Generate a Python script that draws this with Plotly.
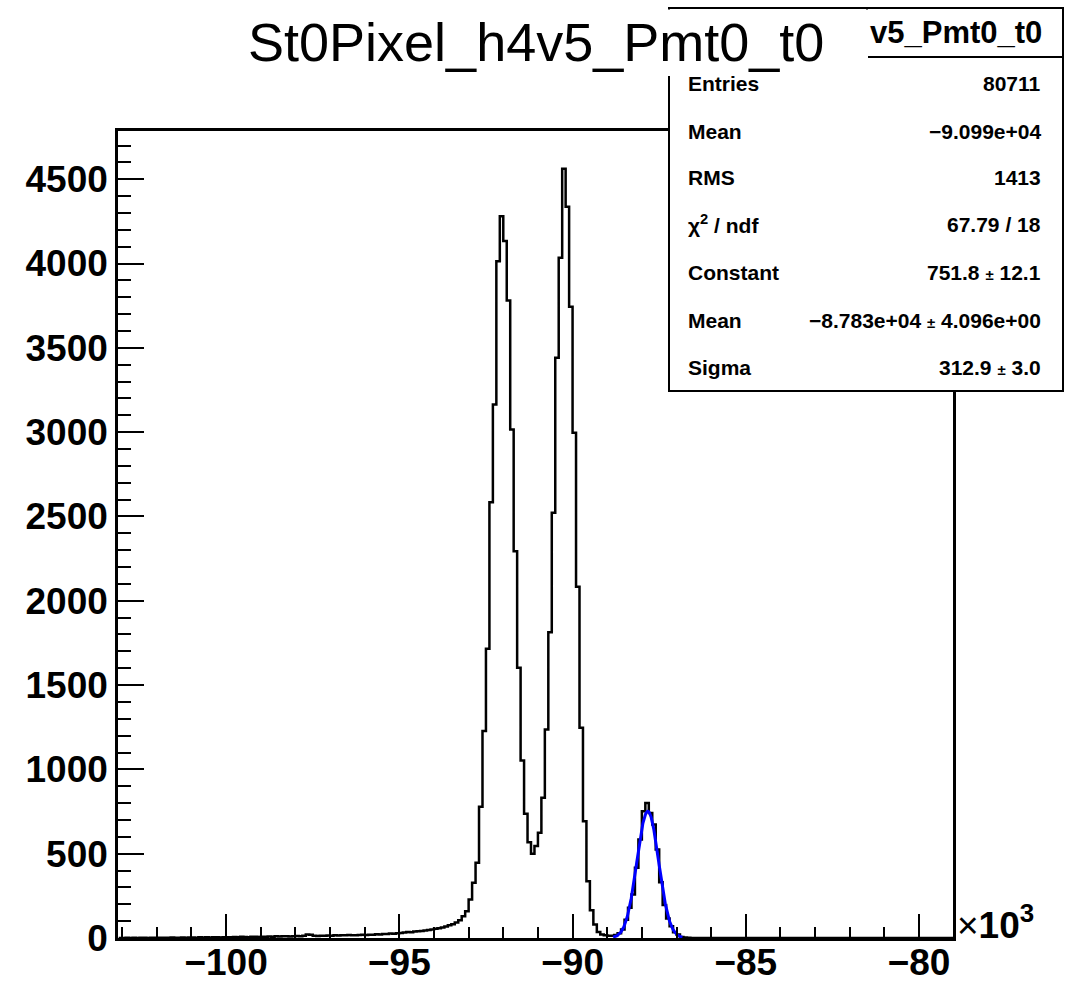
import numpy as np
import plotly.graph_objects as go

# ---------------- data (x in units of 10^3) ----------------
bin_start = -103.1
bin_width = 0.1
counts = [
    0, 0, 1, 0, 1, 0, 1, 1, 0, 2, 1,            # -103.1 .. -102.1
    1, 2, 1, 2, 3, 2, 1, 3, 2, 3,               # -102.0 .. -101.1
    3, 2, 4, 3, 4, 3, 5, 4, 3, 5,               # -101.0 .. -100.1
    4, 5, 6, 5, 7, 6, 5, 7, 8, 6,               # -100.0 .. -99.1
    7, 8, 9, 8, 10, 9, 11, 10, 9, 11,           # -99.0 .. -98.1
    12, 11, 13, 21, 20, 13, 12, 14, 13, 15,     # -98.0 .. -97.1
    14, 16, 15, 17, 16, 18, 17, 16, 18, 19,     # -97.0 .. -96.1
    18, 20, 19, 22, 21, 24, 23, 26, 25, 28,     # -96.0 .. -95.1
    30, 33, 35, 34, 38, 40, 42, 45, 47, 50,     # -95.0 .. -94.1
    55, 58, 62, 68, 75, 82, 92, 106, 129, 159,  # -94.0 .. -93.1
    228, 327, 446, 778, 1227, 1715, 2585, 3164, 4014, 4281,   # -93.0 .. -92.1
    4133, 3781, 3016, 2294, 1603, 1053, 737, 568, 500, 546,   # -92.0 .. -91.1
    624, 832, 1236, 1814, 2522, 3441, 4034, 4562, 4337, 3744, # -91.0 .. -90.1
    2996, 2083, 1247, 693, 337, 165, 80, 35, 21, 16,          # -90.0 .. -89.1
    14, 13, 18, 28, 50, 108, 179, 258, 416, 584,              # -89.0 .. -88.1
    752, 800, 742, 673, 525, 330, 195, 115, 70, 34,           # -88.0 .. -87.1
    21, 6, 3, 1, 0, 0, 0, 0, 0, 0,                            # -87.0 .. -86.1
    0, 0, 0, 0, 0, 0, 0, 0, 0, 0,                             # -86.0 .. -85.1
    0, 0, 0, 0, 0, 0, 0, 0, 0, 0,
    0, 0, 0, 0, 0, 0, 0, 0, 0, 0,
    0, 0, 0, 0, 0, 0, 0, 0, 0, 0,
    0, 0, 0, 0, 0, 0, 0, 0, 0, 0,
    0, 0, 0, 0, 0, 0, 0, 0, 0, 0,
    0, 0, 0, 0, 0, 0, 0, 0, 0, 0,                             # -80.0 .. -79.1
]

# Gaussian fit parameters (shown in the stats box)
fit_constant = 751.8
fit_mean = -87.83     # x10^3
fit_sigma = 0.3129    # x10^3
fit_range = [-88.83, -86.83]

title_text = "St0Pixel_h4v5_Pmt0_t0"
stats_header = "v5_Pmt0_t0"
stats_labels = ["Entries", "Mean", "RMS", "\u03c7<sup>2</sup> / ndf", "Constant", "Mean", "Sigma"]
pm = "\u00a0<span style='font-size:15px'>\u00b1</span>\u00a0"
stats_values = ["80711", "\u22129.099e+04", "1413", "67.79 / 18",
                "751.8" + pm + "12.1", "\u22128.783e+04" + pm + "4.096e+00",
                "312.9" + pm + "3.0"]
stats_rows_y = [83, 131, 177, 224, 272, 320, 367]

# ---------------- figure ----------------
W, H = 1071, 982
L, R, T, B = 118, 953, 131, 938


def px(x):
    return (x - L) / (R - L)


def py(y):
    return (B - y) / (B - T)


edges = bin_start + bin_width * np.arange(len(counts) + 1)
yy = list(counts) + [counts[-1]]

fig = go.Figure()
fig.add_trace(go.Scatter(x=edges, y=yy, mode="lines", line=dict(shape="hv", color="black", width=2.5),
                         hoverinfo="skip", showlegend=False))

xs = np.linspace(fit_range[0], fit_range[1], 300)
ys = fit_constant * np.exp(-0.5 * ((xs - fit_mean) / fit_sigma) ** 2)
fig.add_trace(go.Scatter(x=xs, y=ys, mode="lines", line=dict(color="#0000ff", width=3),
                         hoverinfo="skip", showlegend=False))

tickfont = dict(family="Liberation Sans", size=37, color="black", weight="bold")

fig.update_layout(
    width=W, height=H,
    margin=dict(l=L, r=W - R, t=T, b=H - B, pad=0, autoexpand=False),
    paper_bgcolor="white", plot_bgcolor="white",
    xaxis=dict(range=[-103.12, -79.02], showgrid=False, zeroline=False, automargin=False,
               showline=True, linecolor="black", linewidth=2.5, mirror=True,
               ticks="inside", ticklen=24, tickwidth=2, tickcolor="black",
               tickmode="linear", tick0=-100, dtick=5, tickfont=tickfont,
               ticklabelstandoff=-10,
               minor=dict(ticks="inside", ticklen=11, tickwidth=2, tickcolor="black",
                          tickmode="linear", tick0=-100, dtick=1)),
    yaxis=dict(range=[0, 4786], showgrid=False, zeroline=False, automargin=False,
               showline=True, linecolor="black", linewidth=2.5, mirror=True,
               ticks="inside", ticklen=26, tickwidth=2, tickcolor="black",
               tickmode="linear", tick0=0, dtick=500, tickfont=tickfont,
               minor=dict(ticks="inside", ticklen=13, tickwidth=2, tickcolor="black",
                          tickmode="linear", tick0=0, dtick=100)),
)

shapes = []
# stats box
shapes.append(dict(type="rect", xref="paper", yref="paper", x0=px(669), x1=px(1063), y0=py(391), y1=py(8),
                   fillcolor="white", line=dict(color="black", width=2), layer="above"))
# stats header box
shapes.append(dict(type="rect", xref="paper", yref="paper", x0=px(867), x1=px(1063), y0=py(57), y1=py(8),
                   fillcolor="white", line=dict(color="black", width=2), layer="above"))
# title pad (white, no border)
shapes.append(dict(type="rect", xref="paper", yref="paper", x0=px(640), x1=px(868), y0=py(76), y1=py(9.5),
                   fillcolor="white", line=dict(width=0), layer="above"))
fig.update_layout(shapes=shapes)

ann = []
ann.append(dict(text=title_text, xref="paper", yref="paper", x=px(536), y=py(42), xanchor="center", yanchor="middle",
                showarrow=False, font=dict(family="Liberation Sans", size=54, color="black")))
ann.append(dict(text=stats_header, xref="paper", yref="paper", x=px(956), y=py(33), xanchor="center", yanchor="middle",
                showarrow=False, font=dict(family="Liberation Sans", size=31, color="black", weight="bold")))
for lab, val, yv in zip(stats_labels, stats_values, stats_rows_y):
    ann.append(dict(text=lab, xref="paper", yref="paper", x=px(686), y=py(yv), xanchor="left", yanchor="middle",
                    showarrow=False, font=dict(family="Liberation Sans", size=21, color="black", weight="bold")))
    ann.append(dict(text=val, xref="paper", yref="paper", x=px(1043), y=py(yv), xanchor="right", yanchor="middle",
                    showarrow=False, font=dict(family="Liberation Sans", size=21, color="black", weight="bold")))
ann.append(dict(text="\u00d7<b>10<sup>3</sup></b>", xref="paper", yref="paper", x=px(955), y=py(922),
                xanchor="left", yanchor="middle", showarrow=False,
                font=dict(family="Liberation Sans", size=37, color="black")))
fig.update_layout(annotations=ann)

fig.write_html("out.html")
